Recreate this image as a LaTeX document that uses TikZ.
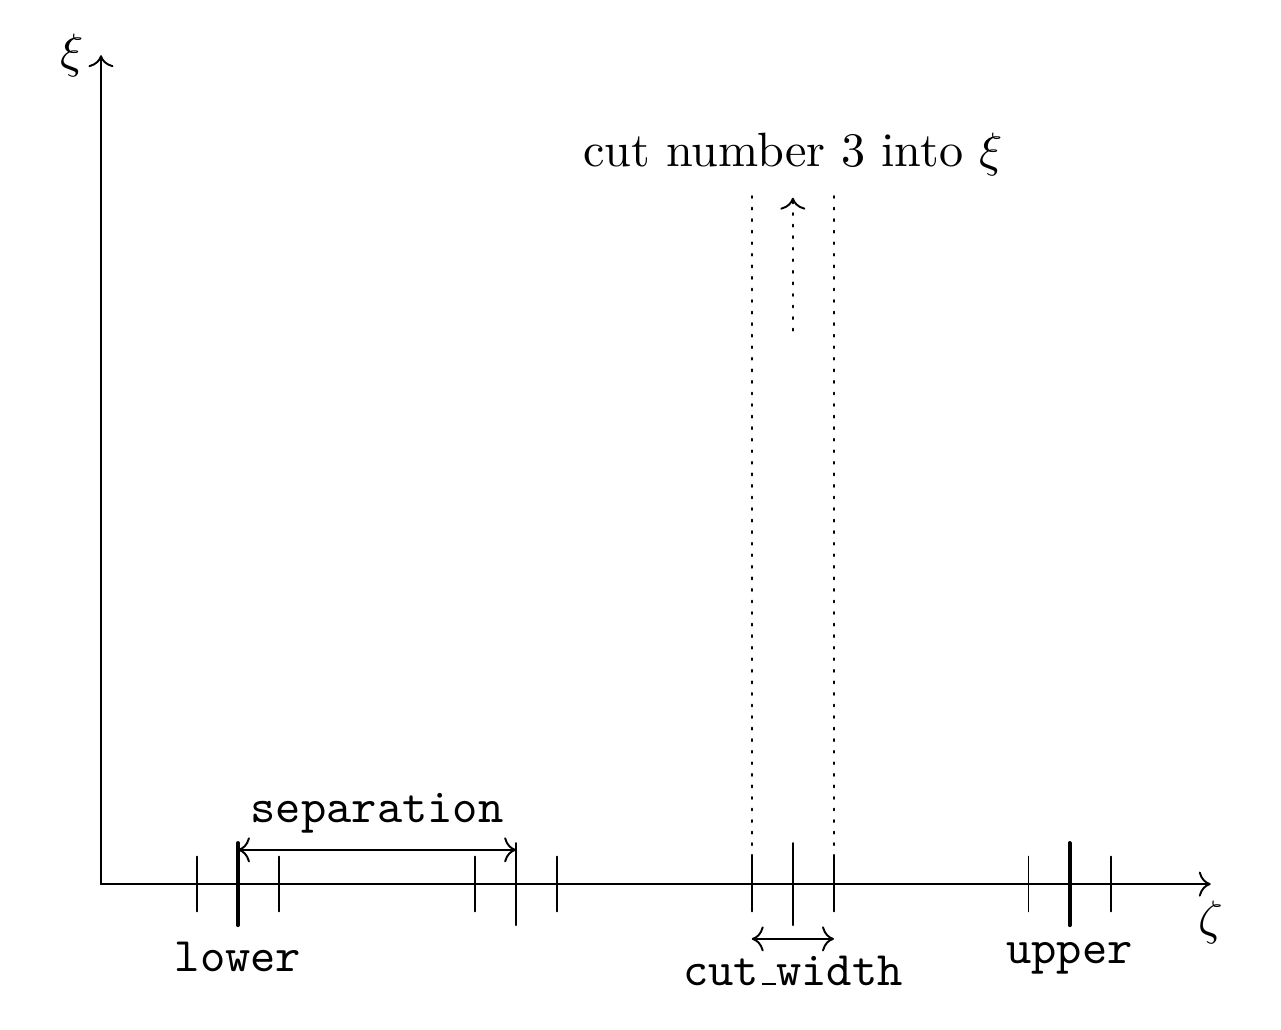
\documentclass[tikz,border=0pt]{standalone}
\usetikzlibrary{arrows.meta}
\newcommand{\ttund}{\leavevmode\kern.06em\vbox{\hrule width.3em}}
\begin{document}
\begin{tikzpicture}[line join = round, line cap = round, >={Computer Modern Rightarrow}]
\useasboundingbox (-0.737,-1.058) rectangle (8.613,6.453);
% axes
\coordinate (O) at (0,0);
\coordinate [label=below:$\zeta$] (Z) at (8.1,0);
\coordinate [label=left:$\xi$] (X) at (0,6.05);
\draw[->] (O) -- (Z);
\draw[->] (O) -- (X);

% small ticks round each point
\foreach \c in {1.0,3.03,5.05,7.07}
    \foreach \d in {-0.3,0.3}
        \draw (\c+\d,-0.2) -- (\c+\d,0.2);

% bounds
\coordinate [label=below:\texttt{lower}] (lo) at (1.0,-0.3);
\coordinate (loT) at (1.0,0.3);
\coordinate [label=below:\texttt{upper}] (up) at (7.07,-0.3);
\coordinate (upT) at (7.07,0.3);
\draw[thick] (lo) -- (loT);
\draw[thick] (up) -- (upT);

% separation
\coordinate (sep) at (3.03,-0.3);
\coordinate (sepT) at (3.03,0.3);
\draw[-] (sep) -- (sepT);
\coordinate (sa) at (1.0,0.25);
\coordinate (sb) at (3.03,0.25);
\draw[<->] (sa) -- (sb) node[midway,above] {\texttt{separation}};

% cut
\coordinate (cut) at (5.05,-0.3);
\coordinate (cutT) at (5.05,0.3);
\draw[-] (cut) -- (cutT);
\coordinate (ca) at (4.75,-0.4);
\coordinate (cb) at (5.35,-0.4);
\draw[<->] (ca) -- (cb) node[midway,below] {\texttt{cut\ttund width}};
\coordinate (da) at (4.75,0.2);
\coordinate (dA) at (4.75,5.05);
\coordinate (db) at (5.35,0.2);
\coordinate (dB) at (5.35,5.05);
\draw[dotted] (da) -- (dA);
\draw[dotted] (db) -- (dB);
\coordinate (ua) at (5.05,4.04);
\coordinate (ub) at (5.05,5.01);
\draw[dotted,->] (ua) -- (ub) node[above=1pt] {cut number 3 into $\xi$};
\end{tikzpicture}
\end{document}
